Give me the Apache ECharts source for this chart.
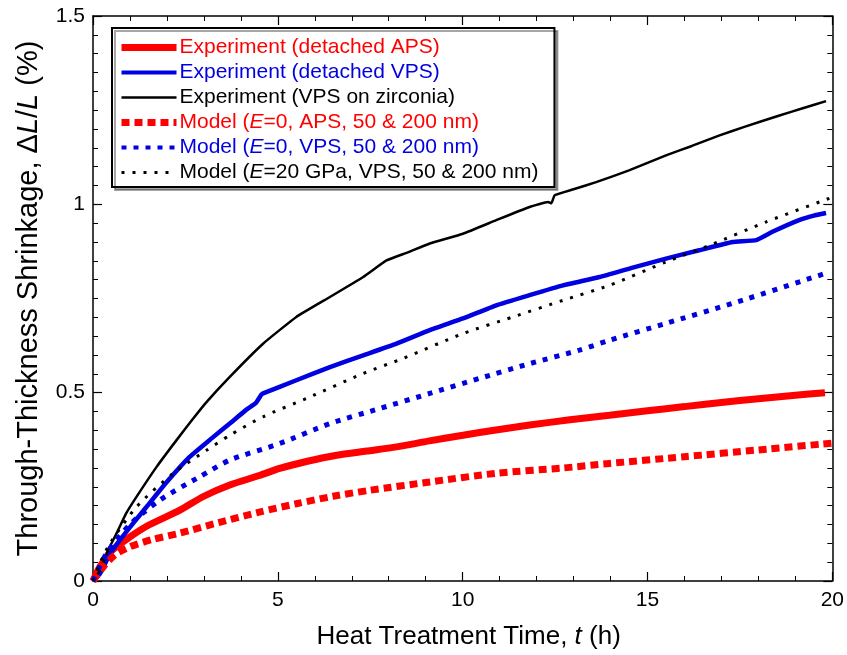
<!DOCTYPE html>
<html><head><meta charset="utf-8">
<script src="https://cdn.jsdelivr.net/npm/echarts@6/dist/echarts.min.js"></script>
<style>html,body{margin:0;padding:0;background:#fff}#c{width:847px;height:655px}</style>
</head><body><div id="c"></div>
<script>
const seriesNames = [
  'Experiment (detached APS)',
  'Experiment (detached VPS)',
  'Experiment (VPS on zirconia)',
  'Model (E=0, APS, 50 & 200 nm)',
  'Model (E=0, VPS, 50 & 200 nm)',
  'Model (E=20 GPa, VPS, 50 & 200 nm)'
];
const expAPS = [[0,0],[0.19,0.038],[0.5,0.08],[1.0,0.117],[1.5,0.148],[2.35,0.188],[3.0,0.225],[3.7,0.255],[4.5,0.28],[5.05,0.299],[5.8,0.318],[6.59,0.334],[7.4,0.345],[8.21,0.356],[9.1,0.372],[10.01,0.387],[10.9,0.401],[11.81,0.414],[12.9,0.428],[13.97,0.44],[15,0.452],[16,0.463],[17,0.474],[18,0.484],[19,0.493],[19.8,0.5]];
const expVPS = [[0,0],[0.19,0.02],[0.45,0.07],[0.73,0.109],[1.1,0.155],[1.45,0.197],[1.99,0.262],[2.62,0.33],[3.2,0.378],[3.7,0.418],[4.15,0.455],[4.4,0.472],[4.55,0.494],[4.6,0.498],[5.5,0.533],[6.41,0.568],[7.31,0.599],[8.21,0.63],[9.11,0.666],[10.01,0.697],[10.91,0.732],[11.81,0.759],[12.71,0.785],[13.7,0.807],[14.6,0.832],[15.5,0.856],[16.4,0.878],[17.3,0.9],[17.94,0.905],[18.38,0.927],[19.1,0.958],[19.5,0.97],[19.83,0.977]];
const expZr = [[0,0],[0.2,0.03],[0.4,0.08],[0.64,0.127],[0.9,0.18],[1.18,0.224],[1.72,0.303],[2.26,0.374],[2.7,0.43],[3.07,0.475],[3.7,0.542],[4.6,0.63],[5.5,0.701],[6.41,0.754],[7.31,0.807],[7.94,0.851],[8.5,0.872],[9.11,0.896],[10.01,0.922],[10.91,0.958],[11.81,0.993],[12.31,1.006],[12.4,1.003],[12.49,1.024],[13.0,1.04],[13.61,1.059],[14.5,1.09],[15.5,1.13],[16.2,1.155],[16.95,1.183],[17.6,1.205],[18.57,1.236],[19.2,1.255],[19.83,1.274]];
const modAPS = [[0,0],[0.3,0.04],[0.6,0.07],[1.0,0.091],[1.6,0.11],[2.35,0.127],[3.4,0.155],[4.5,0.183],[5.5,0.205],[6.5,0.225],[7.5,0.241],[9.11,0.263],[10.91,0.286],[12.71,0.3],[13.97,0.312],[16,0.33],[18,0.348],[20,0.366]];
const modVPS = [[0,0],[0.37,0.074],[1.0,0.15],[1.81,0.215],[2.89,0.277],[3.7,0.321],[5.05,0.365],[6.41,0.418],[7.76,0.458],[9.11,0.498],[10.46,0.538],[11.81,0.577],[13.16,0.613],[13.97,0.639],[15.5,0.684],[17.3,0.737],[19.92,0.82]];
const modE20 = [[0,0],[0.2,0.05],[0.46,0.1],[1.18,0.197],[2.17,0.286],[3.07,0.347],[3.7,0.387],[4.6,0.436],[5.78,0.485],[7.31,0.551],[8.39,0.591],[10.01,0.657],[11.36,0.701],[12.71,0.745],[13.97,0.785],[15.5,0.847],[16.68,0.891],[18.2,0.953],[19.92,1.016]];
const xTicks = [0, 5, 10, 15, 20];
const yTicks = [0, 0.5, 1, 1.5];

const FONT = '"Liberation Sans", Arial, sans-serif';
const RED = '#ff0000', BLUE = '#0000e0', BLACK = '#000000';
const styles = [
  {color: RED, width: 7, type: 'solid'},
  {color: BLUE, width: 4.5, type: 'solid'},
  {color: BLACK, width: 2.5, type: 'solid'},
  {color: RED, width: 7, type: [8, 5]},
  {color: BLUE, width: 5, type: [5, 7]},
  {color: BLACK, width: 3, type: [3, 8]}
];
const datas = [expAPS, expVPS, expZr, modAPS, modVPS, modE20];
const legendWidths = [7, 4, 2.5, 7, 4, 3];

const chart = echarts.init(document.getElementById('c'), null, {renderer: 'canvas'});
const axisCommon = {
  axisLine: {show: true, onZero: false, lineStyle: {color: '#000', width: 1.5}},
  axisTick: {show: true, inside: true, length: 9, lineStyle: {color: '#000', width: 1.2}},
  splitLine: {show: false},
  minorSplitLine: {show: false}
};
const nameRich = (size) => ({
  n: {fontSize: size, fontFamily: FONT, color: '#000'},
  i: {fontSize: size, fontFamily: FONT, fontStyle: 'italic', color: '#000'}
});
chart.setOption({
  animation: false,
  backgroundColor: '#fff',
  grid: {left: 93, right: 14, top: 16, bottom: 74, containLabel: false},
  xAxis: [
    Object.assign({}, axisCommon, {
      type: 'value', min: xTicks[0], max: xTicks[xTicks.length - 1], interval: 5, position: 'bottom',
      minorTick: {show: true, splitNumber: 5, length: 5, lineStyle: {color: '#000', width: 1}},
      axisLabel: {color: '#000', fontSize: 21, fontFamily: FONT, margin: 9},
      name: '{n|Heat Treatment Time, }{i|t}{n| (h)}', nameLocation: 'middle', nameGap: 43,
      nameTextStyle: {padding: [0, 0, 0, 12], rich: nameRich(26)}
    }),
    Object.assign({}, axisCommon, {
      type: 'value', min: xTicks[0], max: xTicks[xTicks.length - 1], interval: 5, position: 'top',
      minorTick: {show: true, splitNumber: 5, length: 5, lineStyle: {color: '#000', width: 1}},
      axisLabel: {show: false}
    })
  ],
  yAxis: [
    Object.assign({}, axisCommon, {
      type: 'value', min: yTicks[0], max: yTicks[yTicks.length - 1], interval: 0.5, position: 'left',
      minorTick: {show: true, splitNumber: 10, length: 5, lineStyle: {color: '#000', width: 1}},
      axisLabel: {color: '#000', fontSize: 21, fontFamily: FONT, margin: 8},
      name: '{n|Through-Thickness Shrinkage, Δ}{i|L}{n|/}{i|L}{n| (%)}', nameLocation: 'middle', nameGap: 50, nameRotate: 90,
      nameTextStyle: {rich: nameRich(29)}
    }),
    Object.assign({}, axisCommon, {
      type: 'value', min: yTicks[0], max: yTicks[yTicks.length - 1], interval: 0.5, position: 'right',
      minorTick: {show: true, splitNumber: 10, length: 5, lineStyle: {color: '#000', width: 1}},
      axisLabel: {show: false}
    })
  ],
  legend: {
    orient: 'vertical', left: 112, top: 28,
    backgroundColor: '#fff', borderColor: '#000', borderWidth: 2,
    shadowColor: 'rgba(0,0,0,0.35)', shadowOffsetX: 3, shadowOffsetY: 3, shadowBlur: 0,
    padding: [9, 16, 4, 6], itemGap: 4, itemWidth: 55, itemHeight: 14,
    itemStyle: {opacity: 0},
    data: seriesNames.map((n, i) => ({
      name: n,
      itemStyle: {opacity: 0},
      lineStyle: {width: legendWidths[i]},
      textStyle: {color: styles[i].color}
    })),
    textStyle: {fontSize: 21, lineHeight: 21, fontFamily: FONT, padding: [0, 0, 0, -2],
      rich: {i: {fontStyle: 'italic', fontSize: 21, lineHeight: 21, fontFamily: FONT}}},
    formatter: function (name) {
      return name.replace('E=', '{i|E}=');
    }
  },
  series: seriesNames.map((n, i) => ({
    name: n, type: 'line', xAxisIndex: 0, yAxisIndex: 0,
    data: datas[i], showSymbol: false, symbol: 'none',
    smooth: i === 1 || i === 2 ? 0.12 : 0.25,
    lineStyle: {color: styles[i].color, width: styles[i].width, type: styles[i].type, cap: 'butt'},
    itemStyle: {color: styles[i].color},
    z: 2 + i
  }))
});
</script></body></html>
